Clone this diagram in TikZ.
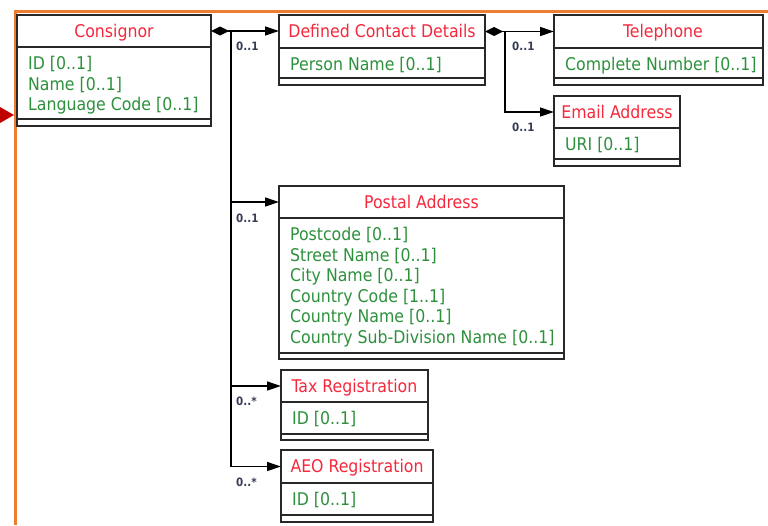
\documentclass[tikz,border=0pt]{standalone}
\usepackage{fontspec}
\newfontfamily\tah{DejaVu Sans Condensed}
\usetikzlibrary{arrows.meta}
\definecolor{frameorange}{RGB}{237,125,49}
\definecolor{titlered}{RGB}{245,40,60}
\definecolor{attrgreen}{RGB}{45,145,60}
\definecolor{boxline}{RGB}{40,40,40}
\definecolor{multcol}{RGB}{55,60,85}
\definecolor{arrowred}{RGB}{192,0,0}
\tikzset{
  hdr/.style={draw=boxline, line width=1.3pt, outer sep=0pt, fill=white, inner sep=0pt, text=titlered,
    text height=14pt, text depth=1.4pt,
    font=\tah\fontsize{17.5}{20.6}\selectfont},
  bdy/.style={draw=boxline, line width=1.3pt, outer sep=0pt, fill=white, inner sep=0pt},
  ftr/.style={draw=boxline, line width=1.3pt, outer sep=0pt, fill=white, inner sep=0pt},
  attr/.style={inner sep=0pt, align=left, text=attrgreen,
    font=\tah\fontsize{17.5}{20.6}\selectfont},
  conn/.style={draw=black, line width=1.3pt},
  mult/.style={inner sep=0pt, anchor=west, text=multcol, font=\tah\bfseries\fontsize{11.5}{12}\selectfont},
  dmd/.tip={Diamond[length=18pt,width=9pt]},
  trh/.tip={Triangle[length=14pt,width=9pt]}
}
\newcommand\umlclass[9]{%
  \node[hdr, minimum width=#4pt, minimum height=#5pt, anchor=north west] (#1-h) at (#2,#3) {#8};
  \node[bdy, minimum width=#4pt, minimum height=#6pt, anchor=north west] (#1-b) at (#1-h.south west) {};
  \node[ftr, minimum width=#4pt, minimum height=#7pt, anchor=north west] (#1-f) at (#1-b.south west) {};
  \node[attr, anchor=north west] (#1-t) at ([xshift=11pt,yshift=-9pt]#1-b.north west) {#9};
}
\begin{document}
\begin{tikzpicture}[x=1pt,y=-1pt]
\useasboundingbox (0,0) rectangle (768,525);
\fill[white] (0,0) rectangle (768,525);
% frame
\draw[frameorange, line width=3pt] (768,11) -- (15,11) -- (15,525);
\fill[arrowred] (0,107) -- (14,115) -- (0,123) -- cycle;
% classes
\umlclass{cons}{17}{15}{194}{32}{72}{7}{Consignor}{ID [0..1]\\Name [0..1]\\Language Code [0..1]}
\umlclass{dcd}{279}{15}{206}{33}{30}{7}{Defined Contact Details}{Person Name [0..1]}
\umlclass{tel}{554}{15}{209}{33}{30}{7}{\hspace*{9pt}Telephone}{Complete Number [0..1]}
\umlclass{email}{554}{96}{126}{32}{31}{7}{Email Address}{URI [0..1]}
\umlclass{postal}{279}{186}{285}{32}{135}{6}{Postal Address}{Postcode [0..1]\\Street Name [0..1]\\City Name [0..1]\\Country Code [1..1]\\Country Name [0..1]\\Country Sub-Division Name [0..1]}
\umlclass{tax}{281}{370}{147}{32}{32}{6}{Tax Registration}{ID [0..1]}
\umlclass{aeo}{281}{450}{152}{33}{32}{7}{AEO Registration}{ID [0..1]}
% connectors
\coordinate (j1) at ([xshift=20pt]cons-h.east);
\coordinate (j2) at ([xshift=20pt]dcd-h.east);
\draw[conn, {dmd}-{trh}] (cons-h.east) -- (cons-h.east -| dcd-h.west);
\draw[conn, -{trh}] (j1) |- (postal-h.west);
\draw[conn, -{trh}] (j1) |- (tax-h.west);
\draw[conn, -{trh}] (j1) |- (aeo-h.west);
\draw[conn, {dmd}-{trh}] (dcd-h.east) -- (dcd-h.east -| tel-h.west);
\draw[conn, -{trh}] (j2) |- (email-h.west);
% multiplicities
\node[mult] (m1) at (236,46) {0..1};
\node[mult] (m2) at (236,218) {0..1};
\node[mult] (m3) at (236,401) {0..*};
\node[mult] (m4) at (236,482) {0..*};
\node[mult] (m5) at (512,46) {0..1};
\node[mult] (m6) at (512,127) {0..1};
\end{tikzpicture}
\end{document}
